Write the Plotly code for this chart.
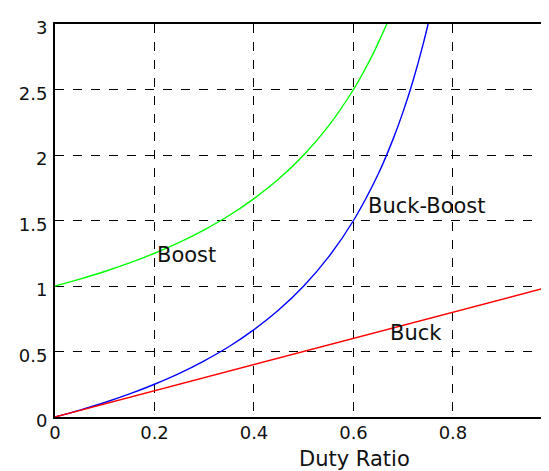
import plotly.graph_objects as go

# Buck: output/input = D
buck_x = [0.0, 0.1, 0.2, 0.3, 0.4, 0.5, 0.6, 0.7, 0.8, 0.9, 1.0]
buck_y = [0.0, 0.1, 0.2, 0.3, 0.4, 0.5, 0.6, 0.7, 0.8, 0.9, 1.0]

# Boost curve
boost_x = [0.0, 0.05, 0.1, 0.15, 0.2, 0.25, 0.3, 0.35, 0.4, 0.45, 0.5, 0.55, 0.6, 0.62, 0.64, 0.655, 0.667]
boost_y = [1.0, 1.053, 1.111, 1.176, 1.25, 1.333, 1.429, 1.538, 1.667, 1.818, 2.0, 2.222, 2.5, 2.632, 2.778, 2.899, 3.0]

# Buck-Boost curve
bb_x = [0.0, 0.05, 0.1, 0.15, 0.2, 0.25, 0.3, 0.35, 0.4, 0.45, 0.5, 0.55, 0.6, 0.65, 0.68, 0.7, 0.72, 0.74, 0.75]
bb_y = [0.0, 0.053, 0.111, 0.176, 0.25, 0.333, 0.429, 0.538, 0.667, 0.818, 1.0, 1.222, 1.5, 1.857, 2.125, 2.333, 2.571, 2.846, 3.0]

x_ticks = [0, 0.2, 0.4, 0.6, 0.8]
x_ticklabels = ["0", "0.2", "0.4", "0.6", "0.8"]
y_ticks = [0, 0.5, 1, 1.5, 2, 2.5, 3]
y_ticklabels = ["0", "0.5", "1", "1.5", "2", "2.5", "3"]

labels = [("Boost", 0.208, 1.24), ("Buck-Boost", 0.632, 1.61), ("Buck", 0.675, 0.64)]

font_fam = "DejaVu Sans, Verdana, sans-serif"

fig = go.Figure()
fig.add_trace(go.Scatter(x=boost_x, y=boost_y, mode="lines", line=dict(color="#00ff00", width=1.4, shape="spline")))
fig.add_trace(go.Scatter(x=bb_x, y=bb_y, mode="lines", line=dict(color="#0000ff", width=1.4, shape="spline")))
fig.add_trace(go.Scatter(x=buck_x, y=buck_y, mode="lines", line=dict(color="#ff0000", width=1.4)))

for txt, lx, ly in labels:
    fig.add_annotation(x=lx, y=ly, text=txt, showarrow=False, xanchor="left", yanchor="middle",
                       xshift=-3, font=dict(family=font_fam, size=21, color="#111"))

fig.add_annotation(x=0.608, y=-0.108, xref="paper", yref="paper", text="Duty Ratio", showarrow=False,
                   xanchor="center", yanchor="middle", font=dict(family=font_fam, size=21, color="#111"))

fig.update_layout(
    width=541, height=463,
    margin=dict(l=47, r=1, t=16, b=54),
    paper_bgcolor="white", plot_bgcolor="white",
    showlegend=False,
    font=dict(family=font_fam, size=18, color="#111"),
)
fig.update_xaxes(range=[0, 0.991], tickvals=x_ticks, ticktext=x_ticklabels,
                 showgrid=True, gridcolor="black", griddash="dash", gridwidth=1.2,
                 showline=True, linecolor="black", linewidth=2, mirror=True,
                 ticks="", zeroline=False, tickfont=dict(size=18), ticklabelstandoff=-2,
                 automargin=False)
fig.update_yaxes(range=[0, 3], tickvals=y_ticks, ticktext=y_ticklabels,
                 showgrid=True, gridcolor="black", griddash="dash", gridwidth=1.2,
                 showline=True, linecolor="black", linewidth=2, mirror=True,
                 ticks="", zeroline=False, tickfont=dict(size=18), ticklabelshift=4,
                 ticklabelstandoff=2, automargin=False)

fig.write_html("out.html")
